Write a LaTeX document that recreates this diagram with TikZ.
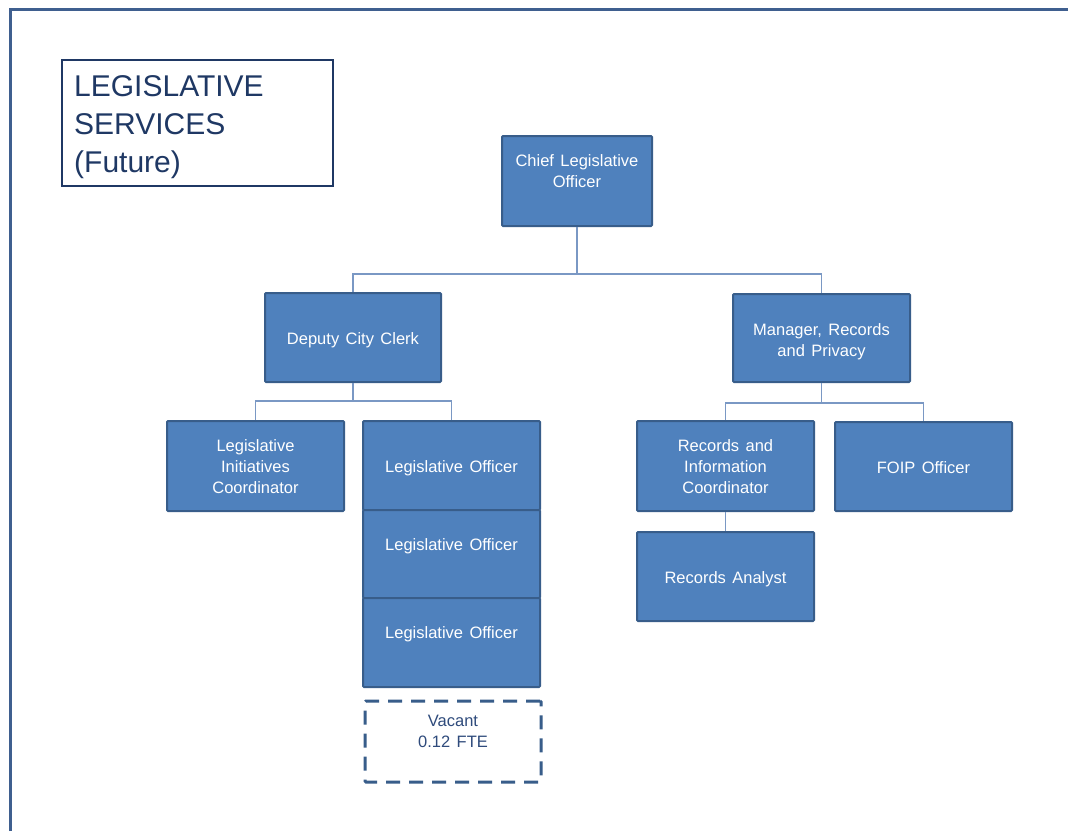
\documentclass[tikz,border=0pt]{standalone}
\usepackage{fontspec}
\setmainfont{Liberation Sans}
\newfontfamily\boxfont{Liberation Sans}[WordSpace=1.4]
\usetikzlibrary{calc}
\definecolor{boxfill}{HTML}{4F81BD}
\definecolor{boxedge}{HTML}{385D8A}
\definecolor{connc}{HTML}{7A98C4}
\definecolor{navy}{HTML}{1F3864}
\definecolor{vactext}{HTML}{2F4B7C}
\definecolor{framec}{HTML}{3F5F8F}
\begin{document}
\begin{tikzpicture}[x=1pt,y=-1pt,
  box/.style={draw=boxedge, fill=boxfill, line width=2pt, minimum width=177pt, minimum height=89pt, inner sep=0pt, rounded corners=1pt},
  txt/.style={text=white, font=\boxfont\fontsize{16.5}{21}\selectfont, align=center, inner sep=0pt},
  conn/.style={draw=connc, line width=1.5pt}]
\useasboundingbox (0,0) rectangle (1068,831);
\fill[white] (0,0) rectangle (1068,831);
\draw[framec, line width=3pt] (10,831) -- (10,9.5) -- (1068,9.5);

% title
\node[draw=navy, line width=1.2pt, minimum width=271pt, minimum height=126pt, inner sep=0pt] (title) at (197.5,123) {};
\node[anchor=north west, text=navy, font=\fontsize{30}{38}\selectfont, align=left, inner sep=0pt] (titletext) at (74,75) {LEGISLATIVE\\SERVICES\\(Future)};

% boxes
\node[box, minimum width=150pt, minimum height=90pt] (chief) at (577,181) {};
\node[box, minimum width=176pt] (deputy) at (353,337.5) {};
\node[box, minimum height=88pt] (manager) at (821.5,338) {};
\node[box, minimum height=90pt] (lic) at (255.5,466) {};
\node[box] (lo1) at (451.5,465.5) {};
\node[box, minimum height=88pt] (lo2) at (451.5,554) {};
\node[box] (lo3) at (451.5,642.5) {};
\node[draw=boxedge, line width=3pt, dash pattern=on 14pt off 9pt, minimum width=176pt, minimum height=81pt, inner sep=0pt, rounded corners=1pt] (vacant) at (453,741.5) {};
\node[box, minimum height=90pt] (ric) at (725.5,466) {};
\node[box] (foip) at (923.5,466.5) {};
\node[box] (ra) at (725.5,576.5) {};

% texts
\node[txt] (chieft) at (577,171) {Chief Legislative\\Officer};
\node[txt] (deputyt) at (353,340.5) {Deputy City Clerk};
\node[txt] (managert) at (821.5,342) {Manager, Records\\and Privacy};
\node[txt] (lict) at (255.5,467) {Legislative\\Initiatives\\Coordinator};
\node[txt] (lo1t) at (451.5,468) {Legislative Officer};
\node[txt] (lo2t) at (451.5,546) {Legislative Officer};
\node[txt] (lo3t) at (451.5,634) {Legislative Officer};
\node[txt, text=vactext] (vacantt) at (453,731) {Vacant\\0.12 FTE};
\node[txt] (rict) at (725.5,467) {Records and\\Information\\Coordinator};
\node[txt] (foipt) at (923.5,468) {FOIP Officer};
\node[txt] (rat) at (725.5,579.5) {Records Analyst};

% connectors
\draw[conn] (chief.south) -- ++(0,47) -| (deputy.north);
\draw[conn] (chief.south) -- ++(0,47) -| (manager.north);
\draw[conn] (deputy.south) -- ++(0,18) -| (lic.north);
\draw[conn] (deputy.south) -- ++(0,18) -| (lo1.north);
\draw[conn] (manager.south) -- ++(0,20) -| (ric.north);
\draw[conn] (manager.south) -- ++(0,20) -| (foip.north);
\draw[conn] (ric.south) -- (ra.north);
\end{tikzpicture}
\end{document}
